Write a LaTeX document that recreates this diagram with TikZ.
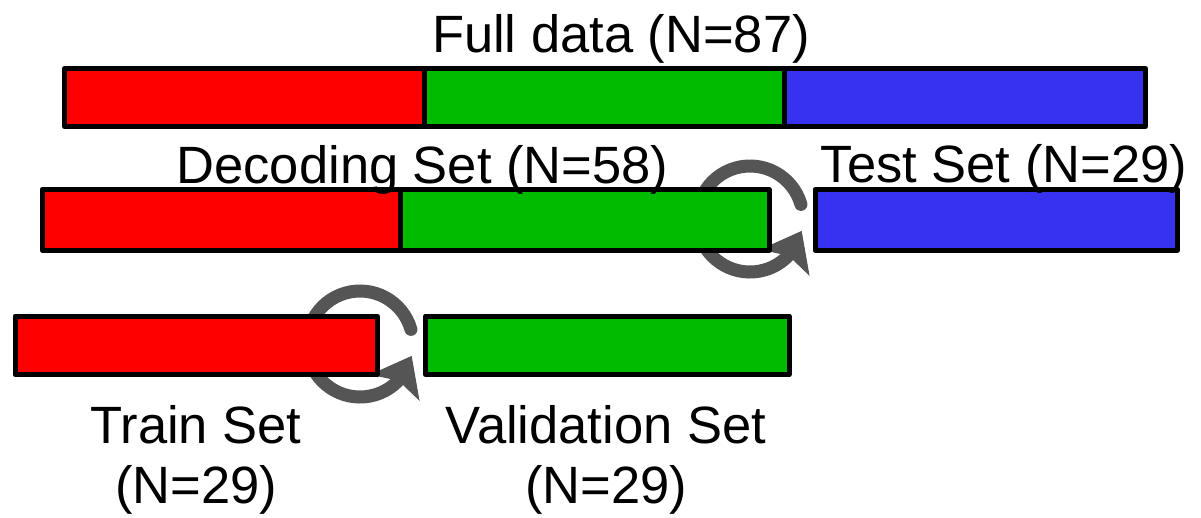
\documentclass[tikz,border=0pt]{standalone}
\usepackage{fontspec}
\setmainfont{Liberation Sans}
\usetikzlibrary{arrows.meta,bending}
\definecolor{cred}{RGB}{255,0,0}
\definecolor{cgreen}{RGB}{0,187,0}
\definecolor{cblue}{RGB}{55,50,240}
\definecolor{cgray}{RGB}{85,85,85}
\begin{document}
\begin{tikzpicture}[x=1pt,y=-1pt,
  seg/.style={draw=black, line width=5pt, inner sep=0pt, outer sep=0pt, anchor=north west, line join=round},
  lbl/.style={font=\fontsize{52.5}{60}\selectfont, inner sep=0pt, anchor=base},
  cyc/.style={draw=cgray, line width=13pt, line cap=round,
    -{Stealth[length=36pt,width=56pt,inset=8pt,line width=1pt,flex]}}]
\useasboundingbox (0,0) rectangle (1201,517);
% cycle arrows (behind boxes)
\coordinate (c1) at (750,219);
\coordinate (c2) at (360,344);
\draw[cyc] ([shift={(-16:53)}]c1) arc[start angle=-16, end angle=-347, radius=53];
\draw[cyc] ([shift={(-16:53)}]c2) arc[start angle=-16, end angle=-347, radius=53];
% row 1
\node[seg, fill=cred,   minimum width=359.5pt, minimum height=58pt] (r1a) at (64.5,68.5) {};
\node[seg, fill=cgreen, minimum width=360pt,   minimum height=58pt] (r1b) at (424,68.5) {};
\node[seg, fill=cblue,  minimum width=361.5pt, minimum height=58pt] (r1c) at (784,68.5) {};
% row 2
\node[seg, fill=cred,   minimum width=358.5pt, minimum height=60.5pt] (r2a) at (42,189.5) {};
\node[seg, fill=cgreen, minimum width=368.5pt, minimum height=60.5pt] (r2b) at (400.5,189.5) {};
\node[seg, fill=cblue,  minimum width=362.5pt, minimum height=60.5pt] (r2c) at (815,189.5) {};
% row 3
\node[seg, fill=cred,   minimum width=362pt,   minimum height=58.5pt] (r3a) at (15,316) {};
\node[seg, fill=cgreen, minimum width=363.5pt, minimum height=58.5pt] (r3b) at (425.5,316) {};
% labels
\node[lbl] (full) at (621,52) {Full data (N=87)};
\node[lbl] (dec) at (422.5,183) {Decoding Set (N=58)};
\node[lbl] (test) at (1004,182) {Test Set (N=29)};
\node[lbl] (train1) at (196,443) {Train Set};
\node[lbl] (train2) at (196,503) {(N=29)};
\node[lbl] (val1) at (606,443) {Validation Set};
\node[lbl] (val2) at (606,503) {(N=29)};
\end{tikzpicture}
\end{document}
